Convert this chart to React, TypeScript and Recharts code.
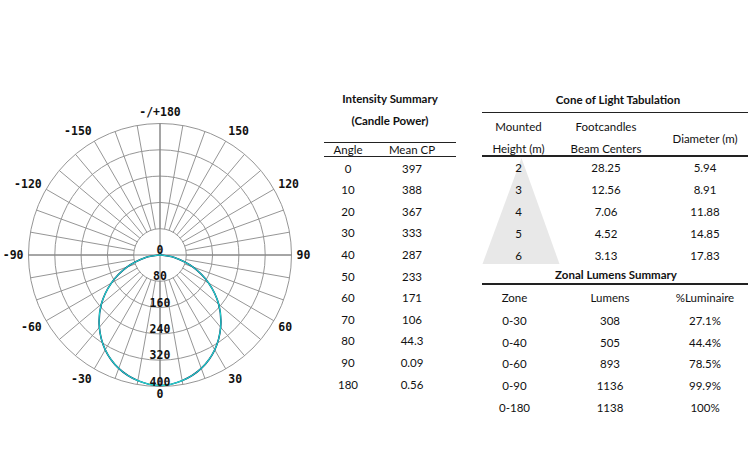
import { PolarAngleAxis, PolarGrid, PolarRadiusAxis, Radar, RadarChart } from "recharts";

// Photometric angles, clockwise from nadir (bottom) through -90, top, +90
const planeAngles = [
  0, -10, -20, -30, -40, -50, -60, -70, -80, -90, -100, -110, -120, -130, -140, -150, -160, -170,
  180, 170, 160, 150, 140, 130, 120, 110, 100, 90, 80, 70, 60, 50, 40, 30, 20, 10,
];

// Intensity summary (candela)
const summaryAngles = [0, 10, 20, 30, 40, 50, 60, 70, 80, 90, 180];
const meanCandela = [397, 388, 367, 333, 287, 233, 171, 106, 44.3, 0.09, 0.56];
// Upper hemisphere 100..170, essentially dark
const upperAngles = [100, 110, 120, 130, 140, 150, 160, 170];
const upperCandela = [0.1, 0.1, 0.2, 0.2, 0.3, 0.4, 0.5, 0.5];

const radiusTicks = [0, 80, 160, 240, 320, 400];
const ringTicks = [80, 160, 240, 320, 400];
const angleTicks = [0, -30, -60, -90, -120, -150, 180, 150, 120, 90, 60, 30];

// Cone of light
const coneHeights = ["2", "3", "4", "5", "6"];
const coneFootcandles = ["28.25", "12.56", "7.06", "4.52", "3.13"];
const coneDiameters = ["5.94", "8.91", "11.88", "14.85", "17.83"];

// Zonal lumens
const zones = ["0-30", "0-40", "0-60", "0-90", "0-180"];
const zoneLumens = [308, 505, 893, 1136, 1138];
const zonePercent = ["27.1%", "44.4%", "78.5%", "99.9%", "100%"];

const candelaAt = (a: number) => {
  const abs = Math.abs(a);
  const i = summaryAngles.indexOf(abs);
  if (i >= 0) return meanCandela[i];
  return upperCandela[upperAngles.indexOf(abs)];
};

const polarData = planeAngles.map((a) => ({
  angle: a,
  c0: candelaAt(a),
  c90: candelaAt(a),
}));

const CX = 160;
const CY = 255;
const OUTER = 131.5;
const INNER = OUTER * (80 / 400);

const monoFont = "'DejaVu Sans Mono', monospace";

const AngleTick = (props: any) => {
  const { payload } = props;
  const v = payload.value as number;
  if (!angleTicks.includes(v)) return null;
  const rad = (-payload.coordinate * Math.PI) / 180;
  const cos = Math.cos(rad);
  const sin = Math.sin(rad);
  const ry = v === 0 ? 139 : 143;
  const x = CX + 136.5 * cos;
  const y = CY + ry * sin;
  const anchor = Math.abs(cos) < 0.1 ? "middle" : cos > 0 ? "start" : "end";
  return (
    <text
      x={x}
      y={y}
      textAnchor={anchor}
      dominantBaseline="central"
      fontFamily={monoFont}
      fontWeight="bold"
      fontSize={11.5}
      fill="#111"
    >
      {v === 180 ? "-/+180" : String(v)}
    </text>
  );
};

const RadiusTick = (props: any) => {
  const { x, y, payload } = props;
  return (
    <text
      x={x}
      y={y - 1}
      textAnchor="middle"
      fontFamily={monoFont}
      fontWeight="bold"
      fontSize={11.5}
      fill="#111"
    >
      {payload.value}
    </text>
  );
};

// closed Catmull-Rom outline through the radar points
const smoothOutline = (stroke: string, width: number) => (props: any) => {
  const pts = (props.points || []) as { x: number; y: number }[];
  const n = pts.length;
  if (!n) return null;
  let d = `M${pts[0].x},${pts[0].y}`;
  for (let i = 0; i < n; i++) {
    const p0 = pts[(i - 1 + n) % n];
    const p1 = pts[i];
    const p2 = pts[(i + 1) % n];
    const p3 = pts[(i + 2) % n];
    const c1x = p1.x + (p2.x - p0.x) / 6;
    const c1y = p1.y + (p2.y - p0.y) / 6;
    const c2x = p2.x - (p3.x - p1.x) / 6;
    const c2y = p2.y - (p3.y - p1.y) / 6;
    d += ` C${c1x},${c1y} ${c2x},${c2y} ${p2.x},${p2.y}`;
  }
  return <path d={d + "Z"} fill="none" stroke={stroke} strokeWidth={width} />;
};

const Cell = ({ x, y, children, bold }: { x: number; y: number; children: any; bold?: boolean }) => (
  <div
    style={{
      position: "absolute",
      left: x,
      top: y,
      transform: "translate(-50%, -50%)",
      whiteSpace: "nowrap",
      fontWeight: bold ? 700 : 400,
      lineHeight: 1,
    }}
  >
    {children}
  </div>
);

const Rule = ({ x1, x2, y }: { x1: number; x2: number; y: number }) => (
  <div
    style={{
      position: "absolute",
      left: x1,
      top: y - 0.75,
      width: x2 - x1,
      height: 1.5,
      background: "#222",
    }}
  />
);

const ROW = 21.6;

export default function App() {
  return (
    <div
      style={{
        position: "absolute",
        left: 0,
        top: 0,
        width: 750,
        height: 470,
        background: "#fff",
        fontFamily: "Lato, 'Open Sans', sans-serif",
        fontSize: 11.5,
        color: "#111",
        overflow: "hidden",
      }}
    >
      {/* spokes and rings, starting at the 80 cd ring */}
      <div style={{ position: "absolute", left: 0, top: 0 }}>
        <RadarChart
          width={320}
          height={470}
          data={polarData}
          cx={CX}
          cy={CY}
          innerRadius={INNER}
          outerRadius={OUTER}
          startAngle={-90}
          endAngle={-450}
          margin={{ top: 0, right: 0, bottom: 0, left: 0 }}
        >
          <PolarGrid gridType="circle" stroke="#969696" strokeWidth={1} />
          <PolarAngleAxis dataKey="angle" tick={false} axisLine={false} tickLine={false} />
          <PolarRadiusAxis
            domain={[80, 400]}
            ticks={ringTicks}
            allowDataOverflow
            tick={false}
            axisLine={false}
            tickLine={false}
          />
          <Radar
            dataKey="c0"
            stroke="none"
            fill="none"
            fillOpacity={0}
            dot={false}
            isAnimationActive={false}
          />
        </RadarChart>
      </div>

      {/* main axes, distribution curve and labels */}
      <div style={{ position: "absolute", left: 0, top: 0 }}>
        <RadarChart
          width={320}
          height={470}
          data={polarData}
          cx={CX}
          cy={CY}
          innerRadius={0}
          outerRadius={OUTER}
          startAngle={-90}
          endAngle={-450}
          margin={{ top: 0, right: 0, bottom: 0, left: 0 }}
        >
          <PolarGrid
            gridType="circle"
            polarRadius={[]}
            polarAngles={[-90, 0, 90, 180]}
            stroke="#808080"
            strokeWidth={1}
          />
          <PolarAngleAxis dataKey="angle" tick={<AngleTick />} axisLine={false} tickLine={false} />
          <PolarRadiusAxis
            angle={-90}
            domain={[0, 400]}
            ticks={radiusTicks}
            tick={<RadiusTick />}
            axisLine={false}
            tickLine={false}
          />
          <Radar
            dataKey="c0"
            stroke="#142c55"
            strokeWidth={1.6}
            fill="none"
            shape={smoothOutline("#142c55", 1.6)}
            dot={false}
            isAnimationActive={false}
          />
          <Radar
            dataKey="c90"
            stroke="#1fd6d2"
            strokeWidth={1.1}
            fill="none"
            shape={smoothOutline("#1fd6d2", 1.1)}
            dot={false}
            isAnimationActive={false}
          />
        </RadarChart>
      </div>

      {/* Intensity summary */}
      <Cell x={390} y={98.5} bold>Intensity Summary</Cell>
      <Cell x={390} y={120.5} bold>(Candle Power)</Cell>
      <Rule x1={324} x2={456} y={142.7} />
      <Cell x={348} y={149.5}>Angle</Cell>
      <Cell x={412} y={149.5}>Mean CP</Cell>
      <Rule x1={324} x2={456} y={156.7} />
      {summaryAngles.map((a, i) => (
        <div key={a}>
          <Cell x={348} y={168.5 + i * ROW}>{a}</Cell>
          <Cell x={412} y={168.5 + i * ROW}>{String(meanCandela[i])}</Cell>
        </div>
      ))}

      {/* Cone of light tabulation */}
      <svg style={{ position: "absolute", left: 0, top: 0 }} width={750} height={470}>
        <polygon points="521.5,158 482.5,264 559.5,264" fill="#e8e8e8" />
      </svg>
      <Cell x={618} y={100} bold>Cone of Light Tabulation</Cell>
      <Rule x1={482} x2={748} y={112.3} />
      <Cell x={518.5} y={127}>Mounted</Cell>
      <Cell x={518.5} y={149}>Height (m)</Cell>
      <Cell x={606} y={127}>Footcandles</Cell>
      <Cell x={606} y={149}>Beam Centers</Cell>
      <Cell x={705} y={138.5}>Diameter (m)</Cell>
      <Rule x1={482} x2={748} y={156} />
      {coneHeights.map((h, i) => (
        <div key={h}>
          <Cell x={518.5} y={168.3 + i * 21.9}>{h}</Cell>
          <Cell x={606} y={168.3 + i * 21.9}>{coneFootcandles[i]}</Cell>
          <Cell x={705} y={168.3 + i * 21.9}>{coneDiameters[i]}</Cell>
        </div>
      ))}

      {/* Zonal lumens summary */}
      <Cell x={616} y={275} bold>Zonal Lumens Summary</Cell>
      <Rule x1={482} x2={748} y={284} />
      <Cell x={514.5} y={298}>Zone</Cell>
      <Cell x={610} y={298}>Lumens</Cell>
      <Cell x={705} y={298}>%Luminaire</Cell>
      {zones.map((z, i) => (
        <div key={z}>
          <Cell x={514.5} y={321 + i * 21.7}>{z}</Cell>
          <Cell x={610} y={321 + i * 21.7}>{zoneLumens[i]}</Cell>
          <Cell x={705} y={321 + i * 21.7}>{zonePercent[i]}</Cell>
        </div>
      ))}
    </div>
  );
}
